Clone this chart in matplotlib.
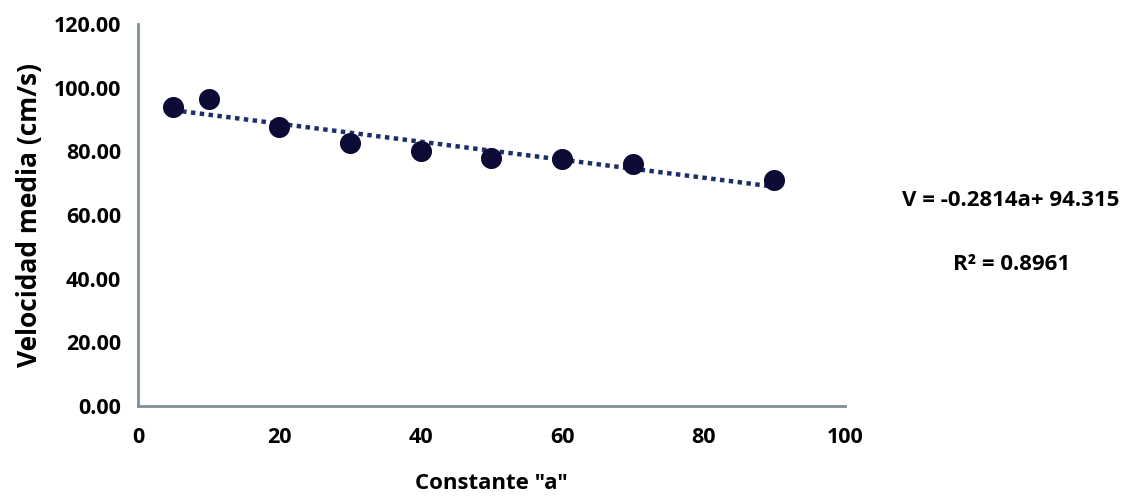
import matplotlib
matplotlib.use("Agg")
from matplotlib import pyplot as plt
import numpy as np

# Constante "a" vs velocidad media
a_vals = [5, 10, 20, 30, 40, 50, 60, 70, 90]
vel = [94.0, 96.5, 87.5, 82.5, 80.0, 78.0, 77.5, 76.0, 71.0]

eq_text = 'V = -0.2814a+ 94.315'
r2_text = 'R² = 0.8961'

plt.rcParams['font.family'] = ['Open Sans', 'DejaVu Sans']
plt.rcParams['font.weight'] = 'bold'

x = np.array(a_vals)
y = np.array(vel)

fig = plt.figure(figsize=(11.27, 5), dpi=100)
ax = fig.add_axes([0.1224, 0.188, 0.6274, 0.764])

# linear trend line
coef = np.polyfit(x, y, 1)
xt = np.array([x.min(), x.max()])
ax.plot(xt, np.polyval(coef, xt), linestyle=(0, (1, 1)), lw=3.2, color='#1c2f66', zorder=2)
ax.scatter(x, y, s=200, color='#0b0b36', zorder=3)

ax.set_xlim(0, 100)
ax.set_ylim(0, 120)
ax.set_xticks(np.arange(0, 101, 20))
ax.set_yticks(np.arange(0, 121, 20))
ax.yaxis.set_major_formatter(matplotlib.ticker.FormatStrFormatter('%.2f'))
ax.tick_params(length=0, labelsize=15.5)
ax.tick_params(axis='x', pad=15)
ax.tick_params(axis='y', pad=12)
for lab in ax.get_xticklabels() + ax.get_yticklabels():
    lab.set_fontweight('bold')

for s in ['top', 'right']:
    ax.spines[s].set_visible(False)
for s in ['left', 'bottom']:
    ax.spines[s].set_color('#7f8f96')
    ax.spines[s].set_linewidth(2)

ax.set_xlabel('Constante "a"', fontsize=16, fontweight='bold', labelpad=18)
ax.set_ylabel('Velocidad media (cm/s)', fontsize=19, fontweight='bold', labelpad=8)

fig.text(0.897, 0.60, eq_text, fontsize=16, fontweight='bold', ha='center', va='center')
fig.text(0.898, 0.472, r2_text, fontsize=16, fontweight='bold', ha='center', va='center')

fig.savefig('out.png', dpi=100)
